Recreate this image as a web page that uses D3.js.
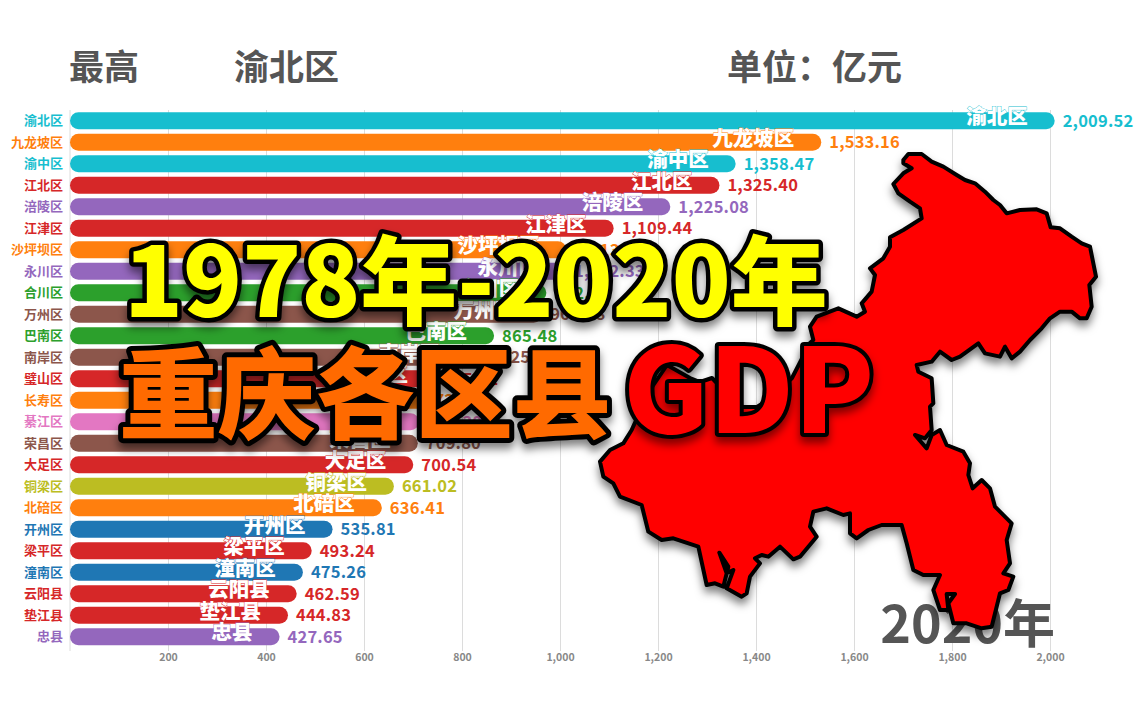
<!DOCTYPE html>
<html><head><meta charset="utf-8">
<script src="https://cdn.jsdelivr.net/npm/d3@7"></script>
<style>
html,body{margin:0;padding:0;background:#fff;overflow:hidden}
text{font-family:"Noto Sans CJK SC","Noto Sans",sans-serif}
</style></head><body><div id="chart"></div>
<script>
const districts=["渝北区","九龙坡区","渝中区","江北区","涪陵区","江津区","沙坪坝区","永川区","合川区","万州区","巴南区","南岸区","璧山区","长寿区","綦江区","荣昌区","大足区","铜梁区","北碚区","开州区","梁平区","潼南区","云阳县","垫江县","忠县"];
const gdp=[2009.52,1533.16,1358.47,1325.40,1225.08,1109.44,1013.05,1012.33,972.14,963.58,865.48,810.25,745.11,727.36,712.30,709.80,700.54,661.02,636.41,535.81,493.24,475.26,462.59,444.83,427.65];
const colorKeys=["teal","orange","teal","red","purple","red","orange","purple","green","brown","green","brown","red","orange","pink","brown","red","olive","orange","blue","red","blue","red","red","purple"];
const palette={teal:"#17becf",orange:"#ff7f0e",red:"#d62728",purple:"#9467bd",green:"#2ca02c",brown:"#8c564b",pink:"#e377c2",olive:"#bcbd22",blue:"#1f77b4"};
const tickValues=[200,400,600,800,1000,1200,1400,1600,1800,2000];
const headerLabels=["最高","渝北区","单位：亿元"];
const yearLabel="2020年";
const titleLine1="1978年-2020年";
const titleLine2a="重庆各区县";
const titleLine2b="GDP";
// outline of Chongqing
const mapOutline=[[940,60],[955,42],[995,42],[1025,65],[1060,80],[1100,105],[1125,120],[1155,130],[1185,155],[1210,180],[1230,195],[1250,220],[1290,210],[1340,208],[1370,220],[1382,262],[1410,265],[1445,290],[1475,310],[1500,320],[1510,370],[1518,410],[1498,435],[1505,500],[1490,535],[1470,535],[1445,515],[1410,515],[1380,535],[1355,565],[1320,600],[1290,635],[1265,655],[1245,620],[1230,650],[1185,640],[1165,610],[1110,650],[1085,660],[1050,635],[1025,665],[980,675],[985,695],[1025,715],[1030,790],[1020,800],[1025,870],[1005,895],[975,885],[1010,925],[1025,885],[1050,870],[1070,915],[1120,935],[1140,970],[1135,1005],[1148,1045],[1175,1020],[1200,1045],[1215,1100],[1265,1150],[1250,1200],[1260,1270],[1240,1300],[1270,1310],[1255,1350],[1230,1360],[1205,1460],[1175,1465],[1130,1450],[1090,1450],[1075,1390],[1095,1362],[1070,1362],[1075,1410],[1050,1410],[1030,1350],[1050,1305],[1000,1305],[970,1290],[950,1210],[935,1155],[875,1155],[835,1170],[800,1195],[780,1180],[780,1120],[760,1125],[710,1105],[670,1115],[660,1160],[680,1190],[630,1250],[610,1258],[570,1220],[535,1250],[515,1245],[495,1255],[510,1270],[480,1310],[470,1360],[455,1370],[410,1345],[430,1290],[410,1300],[388,1238],[415,1280],[400,1340],[375,1330],[350,1335],[325,1220],[250,1195],[215,1200],[175,1175],[155,1095],[90,1070],[70,1030],[40,1010],[30,965],[60,930],[100,910],[125,870],[129,861],[180,750],[231,675],[300,714],[330,726],[366,714],[420,770],[459,801],[501,801],[550,770],[606,714],[660,609],[670,600],[660,560],[680,530],[745,505],[800,530],[825,515],[815,490],[845,455],[855,405],[840,385],[880,355],[900,320],[900,292],[940,270],[995,235],[990,205],[960,185],[925,160],[910,132],[940,100],[965,85],[940,70]];

const W=1146,H=716;
const svg=d3.select("#chart").append("svg").attr("width",W).attr("height",H).style("display","block");
const defs=svg.append("defs");
const f1=defs.append("filter").attr("id","shadow").attr("x","-20%").attr("y","-20%").attr("width","140%").attr("height","140%");
f1.append("feDropShadow").attr("dx",0).attr("dy",6).attr("stdDeviation",4).attr("flood-color","#000").attr("flood-opacity",.5);

const x=d3.scaleLinear().domain([0,2000]).range([70,1050]);
const y=d3.scaleBand().domain(districts).range([110,647.5]).paddingInner(.21).paddingOuter(.105);
const rows=districts.map((d,i)=>({name:d,value:gdp[i],color:palette[colorKeys[i]]}));

// grid + axis
const axis=d3.axisBottom(x).tickValues(tickValues).tickSize(-(651-110)).tickFormat(d3.format(","));
const gAxis=svg.append("g").attr("transform","translate(0,651)").call(axis);
gAxis.select(".domain").remove();
gAxis.selectAll("line").attr("stroke","#dcdcdc").attr("stroke-width",1);
gAxis.selectAll("text").attr("y",3).attr("fill","#888").attr("font-size",10.5).attr("font-weight",700);
svg.append("line").attr("x1",x(0)).attr("x2",x(0)).attr("y1",110).attr("y2",651).attr("stroke","#dcdcdc");

// headers
const head=svg.append("g").attr("fill","#555").attr("font-size",35).attr("font-weight",700);
head.append("text").attr("x",69).attr("y",80).text(headerLabels[0]);
head.append("text").attr("x",234).attr("y",80).text(headerLabels[1]);
head.append("text").attr("x",727).attr("y",80).text(headerLabels[2]);

// bars
const g=svg.append("g");
g.selectAll("rect").data(rows).join("rect")
 .attr("x",x(0)).attr("y",d=>y(d.name)).attr("width",d=>x(d.value)-x(0)).attr("height",y.bandwidth())
 .attr("rx",y.bandwidth()/2).attr("fill",d=>d.color);
g.selectAll("text.cat").data(rows).join("text").attr("class","cat")
 .attr("x",63).attr("y",d=>y(d.name)+y.bandwidth()/2).attr("dy","0.36em")
 .attr("text-anchor","end").attr("font-size",13).attr("font-weight",700).attr("fill",d=>d.color).text(d=>d.name);
g.selectAll("text.inner").data(rows).join("text").attr("class","inner")
 .attr("x",d=>x(d.value)-27).attr("y",d=>y(d.name)+y.bandwidth()/2-4).attr("dy","0.36em")
 .attr("text-anchor","end").attr("font-size",20.5).attr("font-weight",900).attr("fill","#fff")
 .attr("stroke",d=>d.color).attr("stroke-width",.8).attr("paint-order","stroke").text(d=>d.name);
const fmt=d3.format(",.2f");
g.selectAll("text.val").data(rows).join("text").attr("class","val")
 .attr("x",d=>x(d.value)+8).attr("y",d=>y(d.name)+y.bandwidth()/2).attr("dy","0.36em")
 .attr("font-size",16.5).attr("font-weight",700).attr("letter-spacing",.2).attr("fill",d=>d.color).text(d=>fmt(d.value));

// year
svg.append("text").attr("x",1055).attr("y",643).attr("text-anchor","end").attr("font-size",52).attr("font-weight",700).attr("fill","#555").text(yearLabel);

// map overlay
const px=d3.scaleLinear().domain([0,1560]).range([590,1110]);
const py=d3.scaleLinear().domain([0,1500]).range([140,640]);
const mapLine=d3.line().x(d=>px(d[0])).y(d=>py(d[1])).curve(d3.curveLinearClosed);
svg.append("path").attr("d",mapLine(mapOutline)).attr("fill","#f00").attr("stroke","#000").attr("stroke-width",4).attr("stroke-linejoin","round").attr("filter","url(#shadow)");

// big title
function bigText(str,xp,yp,fill,size,sw){
  svg.append("text").attr("x",xp).attr("y",yp)
   .attr("font-size",size).attr("font-weight",900)
   .attr("fill",fill).attr("stroke","#000").attr("stroke-width",sw).attr("stroke-linejoin","round").attr("paint-order","stroke")
   .attr("filter","url(#shadow)").text(str);
}
bigText(titleLine1,124,317,"#ff0",97,9);
bigText(titleLine2a,119,431,"#ff6a00",98.5,10);
bigText(titleLine2b,623,433,"#f00",117,8);
</script></body></html>
